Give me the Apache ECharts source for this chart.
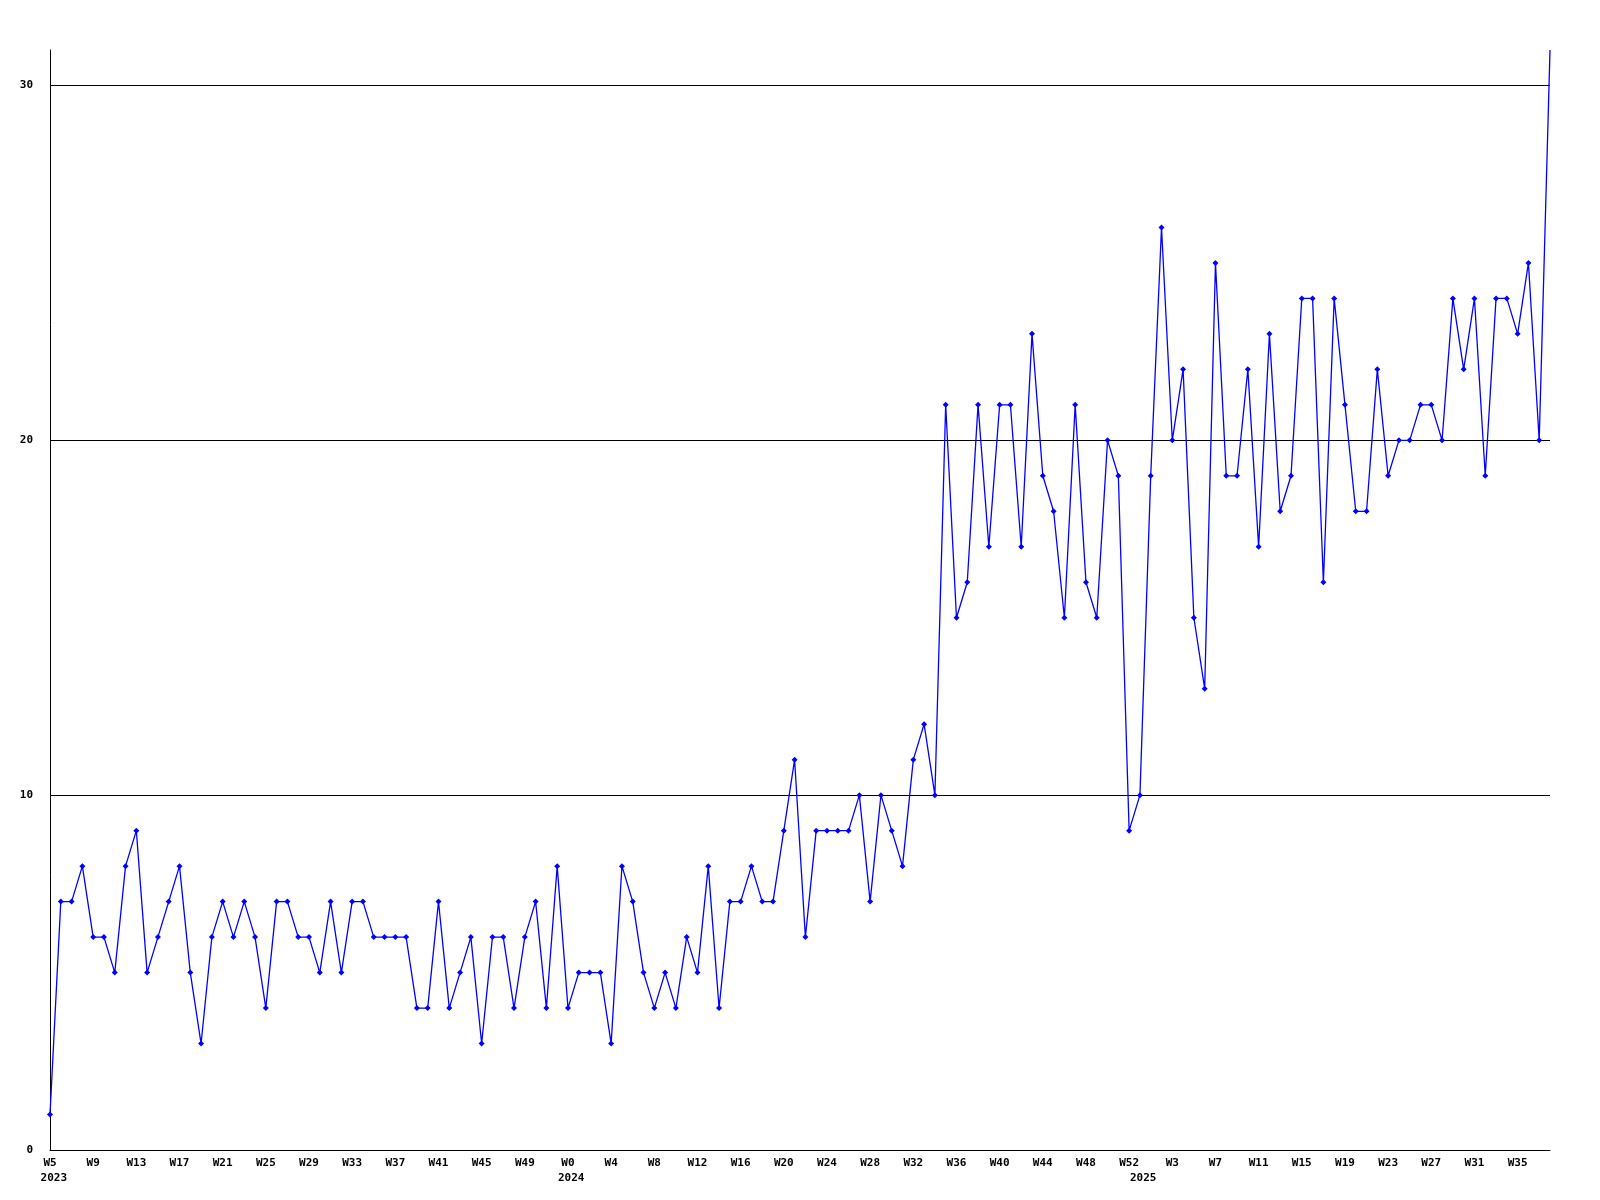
<!DOCTYPE html>
<html>
<head>
<meta charset="utf-8">
<script src="https://cdn.jsdelivr.net/npm/echarts@6/dist/echarts.min.js"></script>
<style>
html,body{margin:0;padding:0;background:#fff;}
#chart{width:1600px;height:1200px;}
</style>
</head>
<body>
<div id="chart"></div>
<script>
// weekly counts, one per week starting at W5 2023
const values = [
  1,
  7,7,8,6,6,5,8,9,5,
  6,7,8,5,3,6,7,6,7,6,
  4,7,7,6,6,5,7,5,7,7,
  6,6,6,6,4,4,7,4,5,6,
  3,6,6,4,6,7,4,8,4,5,
  5,5,3,8,7,5,4,5,4,6,
  5,8,4,7,7,8,7,7,9,11,
  6,9,9,9,9,10,7,10,9,8,
  11,12,10,21,15,16,21,17,21,21,
  17,23,19,18,15,21,16,15,20,19,
  9,10,19,26,20,22,15,13,25,19,
  19,22,17,23,18,19,24,24,16,24,
  21,18,18,22,19,20,20,21,21,20,
  24,22,24,19,24,24,23,25,20,31
];
// week tick labels, one every 4 weeks
const weekLabels = [
  'W5','W9','W13','W17','W21','W25','W29','W33','W37','W41','W45','W49',
  'W0','W4','W8','W12','W16','W20','W24','W28','W32','W36','W40','W44','W48','W52',
  'W3','W7','W11','W15','W19','W23','W27','W31','W35'
];
const weekStep = 4;
// year labels and the week index they sit under
const yearLabels = ['2023','2024','2025'];
const yearAt = [0.35, 48.3, 101.3];
const yTicks = [0, 10, 20, 30];

const weekTicks = weekLabels.map((_, i) => i * weekStep);
const labelFont = {fontFamily: 'DejaVu Sans Mono', fontWeight: 'bold', fontSize: 11, color: '#000'};

const seriesData = values.map((v, i) => {
  if (i === values.length - 1) return {value: [i, v], symbol: 'none'};
  return [i, v];
});

const chart = echarts.init(document.getElementById('chart'), null, {renderer: 'canvas'});
chart.setOption({
  animation: false,
  backgroundColor: '#fff',
  grid: {left: 50, right: 50, top: 50, bottom: 50, containLabel: false},
  xAxis: [{
    type: 'value', min: 0, max: values.length - 1,
    axisLine: {show: true, onZero: false, lineStyle: {color: '#000', width: 1}},
    axisTick: {show: false, customValues: weekTicks},
    splitLine: {show: false},
    axisLabel: Object.assign({
      customValues: weekTicks, margin: 8,
      formatter: function (v) { return weekLabels[Math.round(v / weekStep)] || ''; }
    }, labelFont)
  }, {
    type: 'value', min: 0, max: values.length - 1, position: 'bottom', offset: 15,
    axisLine: {show: false},
    axisTick: {show: false, customValues: yearAt},
    splitLine: {show: false},
    axisLabel: Object.assign({
      customValues: yearAt, margin: 8,
      formatter: function (v) {
        let best = 0;
        yearAt.forEach((p, i) => { if (Math.abs(p - v) < Math.abs(yearAt[best] - v)) best = i; });
        return yearLabels[best];
      }
    }, labelFont)
  }],
  yAxis: {
    type: 'value', min: 0, max: 31,
    axisLine: {show: true, lineStyle: {color: '#000', width: 1}},
    axisTick: {show: false, customValues: yTicks},
    splitLine: {show: true, lineStyle: {color: '#000', width: 1}},
    axisLabel: Object.assign({customValues: yTicks, margin: 17}, labelFont)
  },
  series: [{
    type: 'line',
    xAxisIndex: 0,
    data: seriesData,
    symbol: 'diamond',
    symbolSize: 6,
    showAllSymbol: true,
    clip: true,
    lineStyle: {color: '#0000ff', width: 1.3},
    itemStyle: {color: '#0000ff'}
  }]
});
</script>
</body>
</html>
